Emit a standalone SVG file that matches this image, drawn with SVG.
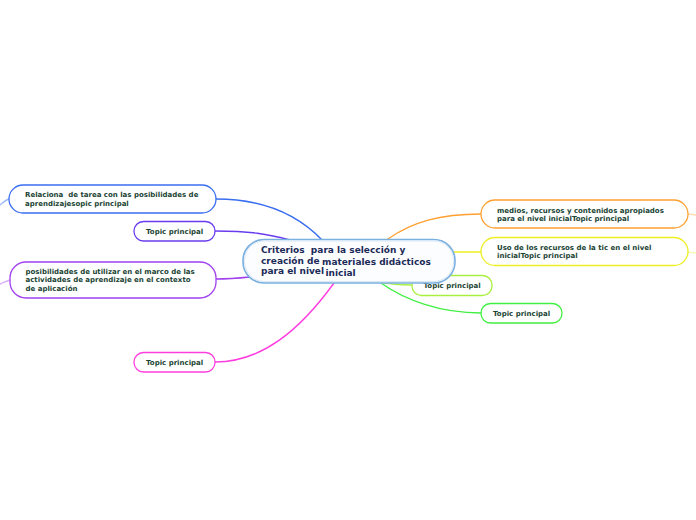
<svg xmlns="http://www.w3.org/2000/svg" width="696" height="520" viewBox="0 0 696 520">
<style>
text{white-space:pre}
.c{fill:none;stroke-width:1.4;stroke-linecap:round}
.n{fill:#ffffff;stroke-width:1.3}
.t{font-family:"DejaVu Sans",Verdana,sans-serif;font-weight:bold;font-size:7px;fill:#1a4434}
.m{font-family:"DejaVu Sans",Verdana,sans-serif;font-weight:bold;font-size:9px;fill:#1b2a57}
</style>
<rect width="696" height="520" fill="#ffffff"/>
<g id="connectors">
<path class="c" stroke="#3a6ef0" d="M216,199 C265,199 298,215 322,240"/>
<path class="c" stroke="#9ab8f8" d="M9,199 C5,200 3,203 0,205"/>
<path class="c" stroke="#6a3cf0" d="M215,231 C250,231 268,234 290,240"/>
<path class="c" stroke="#a040f0" d="M216,279 C230,279 240,278 250,277"/>
<path class="c" stroke="#d8b0f8" d="M10,280 C6,281 3,283 0,284"/>
<path class="c" stroke="#ff3ee0" d="M215,362 C262,362 300,330 334,283"/>
<path class="c" stroke="#ffa030" d="M388,239 C412,222 440,214 481,214"/>
<path class="c" stroke="#ffd8a8" d="M688,214 C690,214 693,215 696,215"/>
<path class="c" stroke="#eeee22" d="M453,252 L481,252"/>
<path class="c" stroke="#f8f8b0" d="M688,252 C690,252 693,253 696,253"/>
<path class="c" stroke="#a8f040" d="M380,282 C395,285 402,285 412,285"/>
<path class="c" stroke="#40f040" d="M381,283 C405,300 440,313 481,313"/>
</g>
<g id="n1">
<rect class="n" stroke="#3a6ef0" x="9" y="185" width="207" height="28" rx="14"/>
<text class="t" x="25" y="197" xml:space="preserve">Relaciona  de tarea con las posibilidades de</text>
<text class="t" x="25" y="206">aprendizajesopic principal</text>
</g>
<g id="n2">
<rect class="n" stroke="#6a3cf0" x="134" y="221.5" width="81" height="19.5" rx="9.5"/>
<text class="t" x="146" y="234">Topic principal</text>
</g>
<g id="n3">
<rect class="n" stroke="#a040f0" x="10" y="262" width="206" height="36" rx="16"/>
<text class="t" x="25.5" y="274">posibilidades de utilizar en el marco de las</text>
<text class="t" x="25.5" y="282">actividades de aprendizaje en el contexto</text>
<text class="t" x="25.5" y="290.5">de aplicación</text>
</g>
<g id="n4">
<rect class="n" stroke="#ff3ee0" x="134" y="352.5" width="81" height="19.5" rx="9.5"/>
<text class="t" x="146" y="365">Topic principal</text>
</g>
<g id="n5">
<rect class="n" stroke="#ffa030" x="481" y="200" width="207" height="28" rx="14"/>
<text class="t" x="497" y="213">medios, recursos y contenidos apropiados</text>
<text class="t" x="497" y="221">para el nivel inicialTopic principal</text>
</g>
<g id="n6">
<rect class="n" stroke="#eeee22" x="481" y="237.5" width="207" height="28" rx="14"/>
<text class="t" x="497" y="249.5">Uso de los recursos de la tic en el nivel</text>
<text class="t" x="497" y="258">inicialTopic principal</text>
</g>
<g id="n7">
<rect class="n" stroke="#a8f040" x="412" y="275.5" width="80" height="20" rx="9.5"/>
<text class="t" x="423.5" y="288">Topic principal</text>
</g>
<g id="n8">
<rect class="n" stroke="#40f040" x="481" y="303.5" width="81" height="19.5" rx="9.5"/>
<text class="t" x="493" y="316">Topic principal</text>
</g>
<g id="central">
<rect x="243" y="239.5" width="212" height="43.5" rx="21" fill="#fbfdff" stroke="#7ab0e0" stroke-width="1.6"/>
<rect x="244.5" y="241" width="209" height="40.5" rx="19.5" fill="none" stroke="#d8e8f6" stroke-width="1"/>
<text class="m" x="261" y="253.3" xml:space="preserve">Criterios  para la selección y</text>
<text class="m" x="261" y="263.5">creación de</text>
<text class="m" x="322" y="265.3">materiales didácticos</text>
<text class="m" x="261" y="274.3">para el nivel</text>
<text class="m" x="325.5" y="276">inicial</text>
</g>
</svg>
